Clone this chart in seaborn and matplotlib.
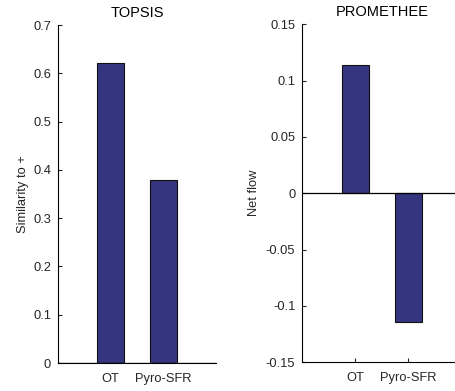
import matplotlib
matplotlib.use("Agg")
import matplotlib.pyplot as plt
import seaborn as sns
import pandas as pd

categories = ["OT", "Pyro-SFR"]
topsis_values = [0.622, 0.378]
promethee_values = [0.114, -0.114]
topsis_ticks = [0, 0.1, 0.2, 0.3, 0.4, 0.5, 0.6, 0.7]
topsis_ticklabels = ["0", "0.1", "0.2", "0.3", "0.4", "0.5", "0.6", "0.7"]
promethee_ticks = [-0.15, -0.1, -0.05, 0, 0.05, 0.1, 0.15]
promethee_ticklabels = ["-0.15", "-0.1", "-0.05", "0", "0.05", "0.1", "0.15"]

sns.set_theme(style="ticks")
plt.rcParams["font.family"] = ["Liberation Sans", "DejaVu Sans"]

BAR = "#35357f"
fig = plt.figure(figsize=(4.55, 3.91), dpi=100)
ax1 = fig.add_axes([58 / 455, 1 - 363 / 391, 158 / 455, 338 / 391])
ax2 = fig.add_axes([302.3 / 455, 1 - 362.3 / 391, 159 / 455, 338 / 391])

df1 = pd.DataFrame({"cat": categories, "val": topsis_values})
df2 = pd.DataFrame({"cat": categories, "val": promethee_values})

for ax, df, ticks, labels, ylab, title, ylim, lpad in [
    (ax1, df1, topsis_ticks, topsis_ticklabels, "Similarity to +", "TOPSIS", (0, 0.7), 3),
    (ax2, df2, promethee_ticks, promethee_ticklabels, "Net flow", "PROMETHEE", (-0.15, 0.15), 4),
]:
    sns.barplot(data=df, x="cat", y="val", ax=ax, color=BAR, width=0.5,
                edgecolor="#111111", linewidth=0.8, saturation=1)
    ax.axhline(0, color="black", lw=0.9, zorder=5)
    ax.set_xlim(-1, 2)
    ax.set_ylim(*ylim)
    ax.set_yticks(ticks)
    ax.set_yticklabels(labels)
    ax.set_xticks([0, 1])
    ax.set_xticklabels(categories)
    ax.set_xlabel("")
    ax.set_ylabel(ylab, fontsize=9.3, color="#262626", labelpad=lpad)
    ax.set_title(title, fontsize=10.5, color="black", pad=6)
    ax.tick_params(axis="y", direction="in", length=3, width=0.8,
                   labelsize=9.3, colors="#262626", pad=5)
    ax.tick_params(axis="x", direction="in", length=3, width=0.8,
                   labelsize=9.3, colors="#262626", pad=7)
    for s in ["top", "right"]:
        ax.spines[s].set_visible(False)
    for s in ["left", "bottom"]:
        ax.spines[s].set_color("black")
        ax.spines[s].set_linewidth(0.8)

fig.savefig("out.png", dpi=100)
